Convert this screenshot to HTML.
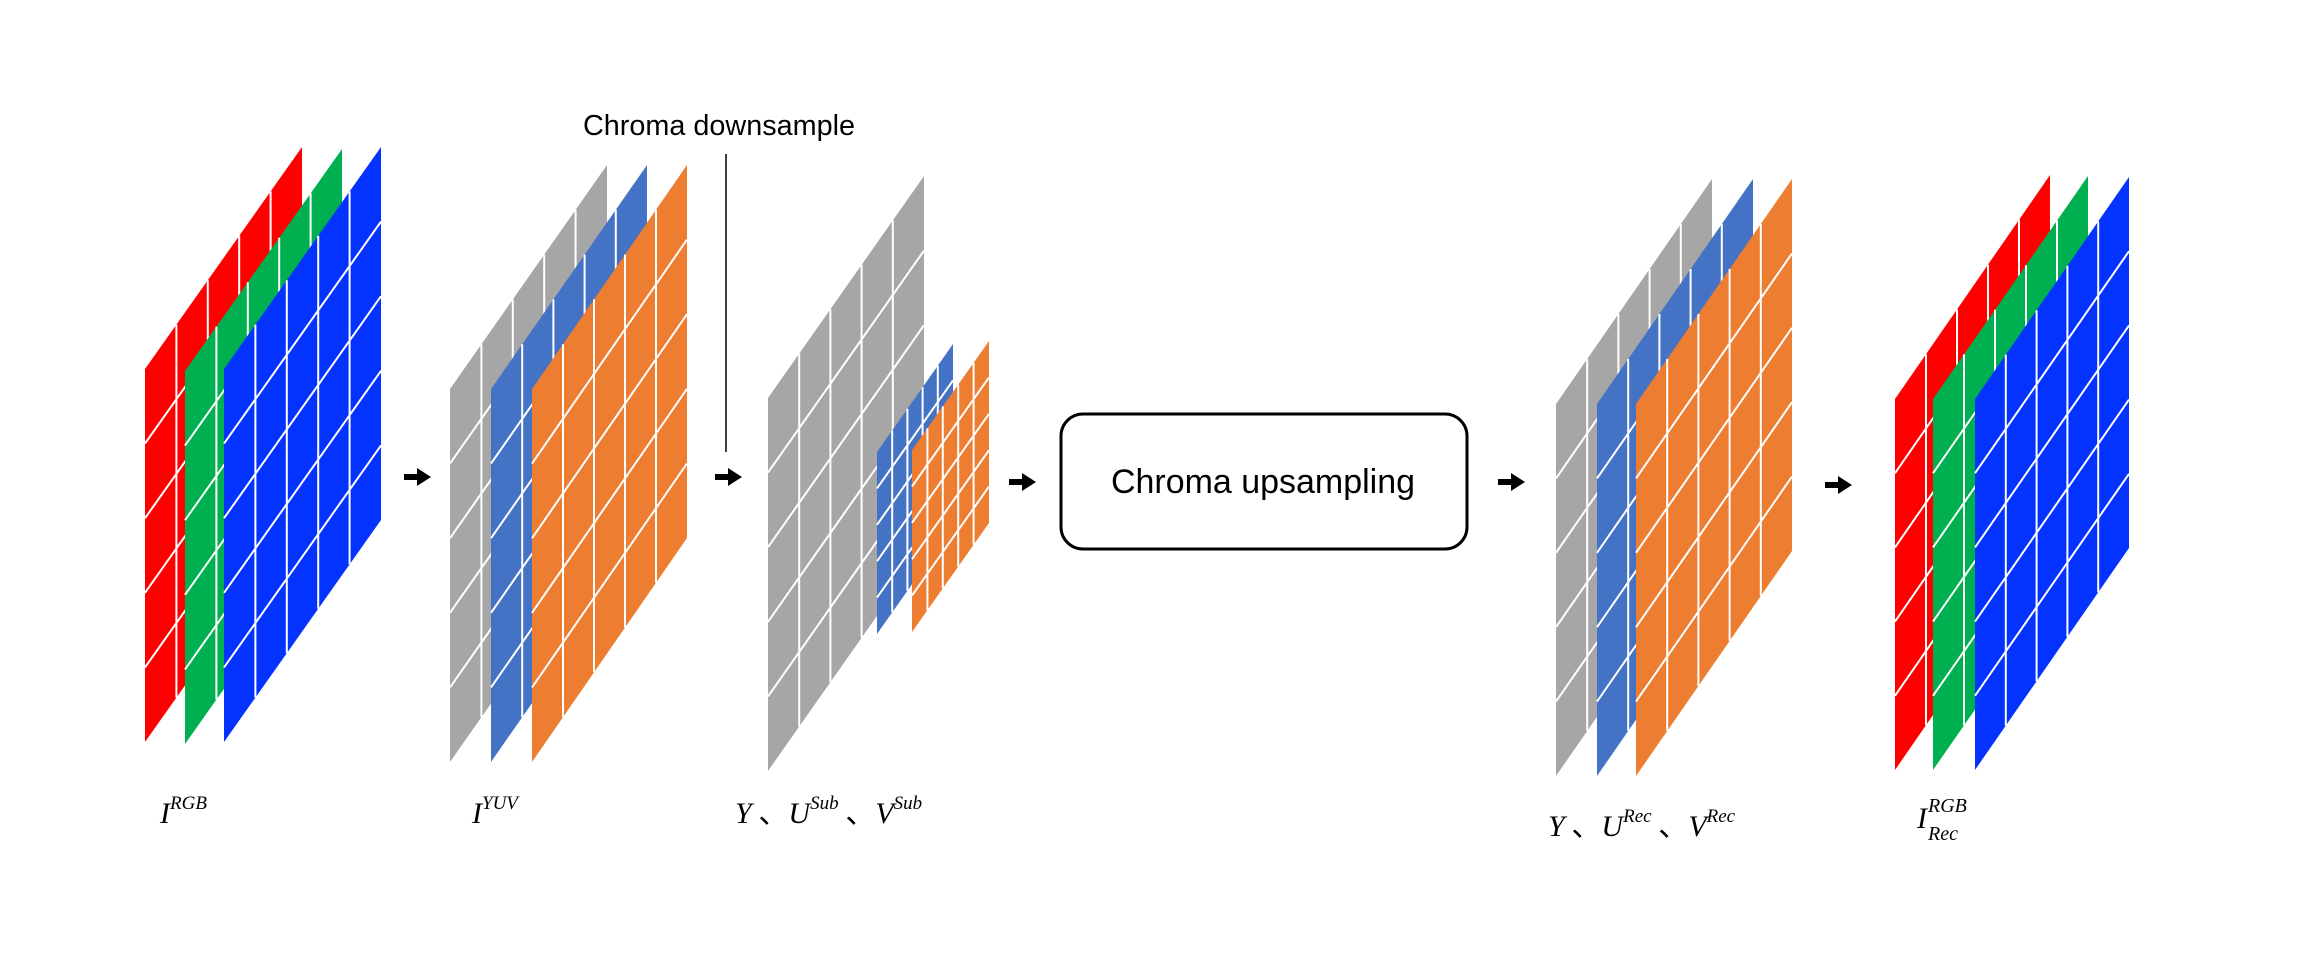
<!DOCTYPE html>
<html><head><meta charset="utf-8"><style>
html,body{margin:0;padding:0;background:#fff;}
svg{display:block}
.m{font-family:"Liberation Serif",serif;font-style:italic;fill:#000}
</style></head><body>
<svg width="2299" height="976" viewBox="0 0 2299 976" xmlns="http://www.w3.org/2000/svg">
<defs>
<g id="g"><path d="M.2 0V1M.4 0V1M.6 0V1M.8 0V1M0 .2H1M0 .4H1M0 .6H1M0 .8H1" stroke="#fff" stroke-width="2" vector-effect="non-scaling-stroke" fill="none"/></g>
<path id="ar" d="M0 -3H13V-9L27 0L13 9V3H0Z" fill="#000"/>
</defs>
<g transform="matrix(157,-222,0,373,145,369)"><rect width="1" height="1" fill="#ff0000"/><use href="#g"/></g>
<g transform="matrix(157,-222,0,373,185,371)"><rect width="1" height="1" fill="#00b050"/><use href="#g"/></g>
<g transform="matrix(157,-222,0,373,224,369)"><rect width="1" height="1" fill="#0433ff"/><use href="#g"/></g>
<g transform="matrix(157,-224,0,373,450,389)"><rect width="1" height="1" fill="#a6a6a6"/><use href="#g"/></g>
<g transform="matrix(156,-224,0,373,491,389)"><rect width="1" height="1" fill="#4472c4"/><use href="#g"/></g>
<g transform="matrix(155,-224,0,373,532,389)"><rect width="1" height="1" fill="#ed7d31"/><use href="#g"/></g>
<g transform="matrix(156,-222,0,373,768,398)"><rect width="1" height="1" fill="#a6a6a6"/><use href="#g"/></g>
<g transform="matrix(76,-108,0,182,877,452)"><rect width="1" height="1" fill="#4472c4"/><use href="#g"/></g>
<g transform="matrix(77,-109,0,182,912,450)"><rect width="1" height="1" fill="#ed7d31"/><use href="#g"/></g>
<g transform="matrix(156,-225,0,372,1556,404)"><rect width="1" height="1" fill="#a6a6a6"/><use href="#g"/></g>
<g transform="matrix(156,-225,0,372,1597,404)"><rect width="1" height="1" fill="#4472c4"/><use href="#g"/></g>
<g transform="matrix(156,-225,0,372,1636,404)"><rect width="1" height="1" fill="#ed7d31"/><use href="#g"/></g>
<g transform="matrix(155,-224,0,371,1895,399)"><rect width="1" height="1" fill="#ff0000"/><use href="#g"/></g>
<g transform="matrix(155,-223,0,371,1933,399)"><rect width="1" height="1" fill="#00b050"/><use href="#g"/></g>
<g transform="matrix(154,-222,0,371,1975,399)"><rect width="1" height="1" fill="#0433ff"/><use href="#g"/></g>
<use href="#ar" transform="translate(404,477)"/>
<use href="#ar" transform="translate(715,477)"/>
<use href="#ar" transform="translate(1009,482)"/>
<use href="#ar" transform="translate(1498,482)"/>
<use href="#ar" transform="translate(1825,485)"/>
<line x1="726" y1="154" x2="726" y2="452" stroke="#000" stroke-width="1.5"/>
<text x="719" y="135" text-anchor="middle" font-family="Liberation Sans, sans-serif" font-size="29" textLength="272" lengthAdjust="spacingAndGlyphs" fill="#000">Chroma downsample</text>
<rect x="1061" y="414" width="406" height="135" rx="22" fill="#fff" stroke="#000" stroke-width="3"/>
<text x="1263" y="493" text-anchor="middle" font-family="Liberation Sans, sans-serif" font-size="34" textLength="304" lengthAdjust="spacingAndGlyphs" fill="#000">Chroma upsampling</text>
<text class="m" x="160" y="823" font-size="30">I<tspan font-size="19" dy="-14">RGB</tspan></text>
<text class="m" x="472" y="823" font-size="30">I<tspan font-size="19" dy="-14">YUV</tspan></text>
<text class="m" x="735" y="823" font-size="30">Y<tspan font-style="normal" font-family="Noto Sans CJK SC, sans-serif"> 、</tspan>U<tspan font-size="19" dy="-14">Sub</tspan><tspan dy="14" font-style="normal" font-family="Noto Sans CJK SC, sans-serif"> 、</tspan>V<tspan font-size="19" dy="-14">Sub</tspan></text>
<text class="m" x="1548" y="836" font-size="30">Y<tspan font-style="normal" font-family="Noto Sans CJK SC, sans-serif"> 、</tspan>U<tspan font-size="19" dy="-14">Rec</tspan><tspan dy="14" font-style="normal" font-family="Noto Sans CJK SC, sans-serif"> 、</tspan>V<tspan font-size="19" dy="-14">Rec</tspan></text>
<text class="m" x="1917" y="828" font-size="30">I</text>
<text class="m" x="1928" y="812" font-size="20">RGB</text>
<text class="m" x="1928" y="840" font-size="20">Rec</text>
</svg>
</body></html>
